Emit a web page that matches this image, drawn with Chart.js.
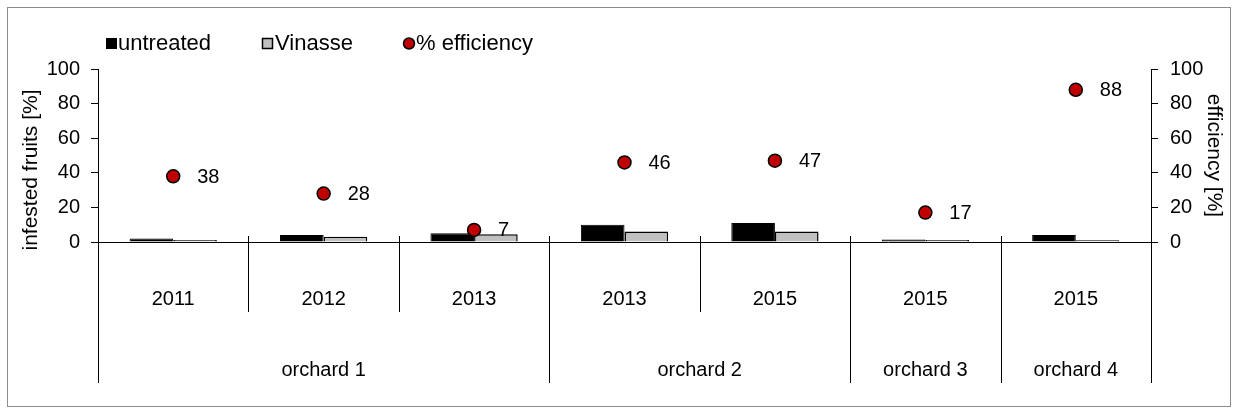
<!DOCTYPE html>
<html>
<head>
<meta charset="utf-8">
<script src="https://cdn.jsdelivr.net/npm/chart.js@4"></script>
<style>
  html, body { margin: 0; padding: 0; background: #fff; }
  #caja { width: 1238px; height: 414px; }
</style>
</head>
<body>
<div id="caja"><canvas id="grafico" width="1238" height="414"></canvas></div>
<script>
const anios = ['2011', '2012', '2013', '2013', '2015', '2015', '2015'];
const huertos = ['orchard 1', 'orchard 2', 'orchard 3', 'orchard 4'];
const categoriasPorHuerto = [3, 2, 1, 1];

const sinTratar = [2, 4, 5, 10, 11, 1.5, 4];
const vinaza = [1.2, 3, 4.5, 6, 6, 1.2, 1];
const eficiencia = [38, 28, 7, 46, 47, 17, 88];

const ticksY = [0, 20, 40, 60, 80, 100];

const fuente = "'Liberation Sans', Arial, sans-serif";
Chart.defaults.font.family = fuente;
Chart.defaults.color = '#000';

// marco, separadores del eje x, huertos, titulo izquierdo, leyenda y valores
const extras = {
    id: 'extras',
    afterDraw(chart) {
        const ctx = chart.ctx;
        const x = chart.scales.x;
        const area = chart.chartArea;
        const paso = x.getPixelForTick(1) - x.getPixelForTick(0);
        const borde = (i) => x.getPixelForTick(0) - paso / 2 + i * paso;

        ctx.save();
        ctx.strokeStyle = '#8c8c8c';
        ctx.lineWidth = 1;
        ctx.strokeRect(7.5, 7.5, 1223, 399);

        const inicios = [0];
        categoriasPorHuerto.forEach((n, i) => inicios.push(inicios[i] + n));
        ctx.strokeStyle = '#000';
        for (let i = 0; i <= anios.length; i++) {
            const px = Math.round(borde(i)) + 0.5;
            const largo = inicios.includes(i);
            ctx.beginPath();
            ctx.moveTo(px, area.bottom - 6);
            ctx.lineTo(px, largo ? 383 : 312);
            ctx.stroke();
        }

        ctx.fillStyle = '#000';
        ctx.font = '20px ' + fuente;
        ctx.textAlign = 'center';
        ctx.textBaseline = 'middle';
        huertos.forEach((h, i) => {
            const cx = (borde(inicios[i]) + borde(inicios[i + 1])) / 2;
            ctx.fillText(h, cx, 370);
        });

        // titulo eje izquierdo
        ctx.save();
        ctx.translate(31, 170);
        ctx.rotate(-Math.PI / 2);
        ctx.font = '21px ' + fuente;
        ctx.fillText('infested fruits [%]', 0, 0);
        ctx.restore();

        const meta = chart.getDatasetMeta(2);
        ctx.font = '20px ' + fuente;
        ctx.textAlign = 'left';
        meta.data.forEach((p, i) => {
            ctx.fillText(String(eficiencia[i]), p.x + 24, p.y + 1);
        });

        // leyenda
        ctx.font = '22px ' + fuente;
        ctx.fillStyle = '#000';
        ctx.fillRect(106, 38, 11, 11);
        ctx.fillText('untreated', 118, 44);
        ctx.fillStyle = '#c0c0c0';
        ctx.fillRect(262, 38, 11, 11);
        ctx.strokeStyle = '#000';
        ctx.lineWidth = 1.5;
        ctx.strokeRect(262.5, 38.5, 10, 10);
        ctx.fillStyle = '#000';
        ctx.fillText('Vinasse', 275, 44);
        ctx.beginPath();
        ctx.arc(409, 43.5, 5.5, 0, Math.PI * 2);
        ctx.fillStyle = '#c00000';
        ctx.fill();
        ctx.stroke();
        ctx.fillStyle = '#000';
        ctx.fillText('% efficiency', 416, 44);
        ctx.restore();
    }
};

const ctx = document.getElementById('grafico').getContext('2d');
const grafico = new Chart(ctx, {
    type: 'bar',
    data: {
        labels: anios,
        datasets: [{
            label: 'untreated',
            data: sinTratar,
            backgroundColor: '#000',
            borderColor: '#000',
            borderWidth: 1,
            yAxisID: 'y',
            categoryPercentage: 0.58,
            barPercentage: 1.0,
            order: 2
        }, {
            label: 'Vinasse',
            data: vinaza,
            backgroundColor: '#c0c0c0',
            borderColor: '#000',
            borderWidth: 1.5,
            yAxisID: 'y',
            categoryPercentage: 0.58,
            barPercentage: 1.0,
            order: 2
        }, {
            type: 'line',
            label: '% efficiency',
            data: eficiencia,
            showLine: false,
            pointRadius: 6.5,
            pointBackgroundColor: '#c00000',
            pointBorderColor: '#000',
            pointBorderWidth: 1.5,
            yAxisID: 'y1',
            order: 1
        }]
    },
    options: {
        responsive: false,
        animation: false,
        layout: { padding: { top: 69, left: 0, right: 0, bottom: 0 } },
        plugins: {
            legend: { display: false },
            tooltip: { enabled: false }
        },
        scales: {
            x: {
                grid: { display: false, drawTicks: false },
                border: { display: true, color: '#000', width: 1 },
                ticks: { padding: 45, font: { size: 20 }, maxRotation: 0 },
                afterFit: (s) => { s.height = 172; }
            },
            y: {
                position: 'left',
                min: 0,
                max: 100,
                afterBuildTicks: (s) => { s.ticks = ticksY.map(v => ({ value: v })); },
                grid: { drawOnChartArea: false, color: '#000', tickLength: 7 },
                border: { display: true, color: '#000', width: 1 },
                ticks: { padding: 11, font: { size: 20 } },
                afterFit: (s) => { s.width = 98; }
            },
            y1: {
                position: 'right',
                min: 0,
                max: 100,
                afterBuildTicks: (s) => { s.ticks = ticksY.map(v => ({ value: v })); },
                grid: { drawOnChartArea: false, color: '#000', tickLength: 7 },
                border: { display: true, color: '#000', width: 1 },
                ticks: { padding: 12, font: { size: 20 } },
                title: { display: true, text: 'efficiency [%]', font: { size: 21 }, padding: { top: 12, bottom: 0 } },
                afterFit: (s) => { s.width = 87; }
            }
        }
    },
    plugins: [extras]
});
</script>
</body>
</html>
